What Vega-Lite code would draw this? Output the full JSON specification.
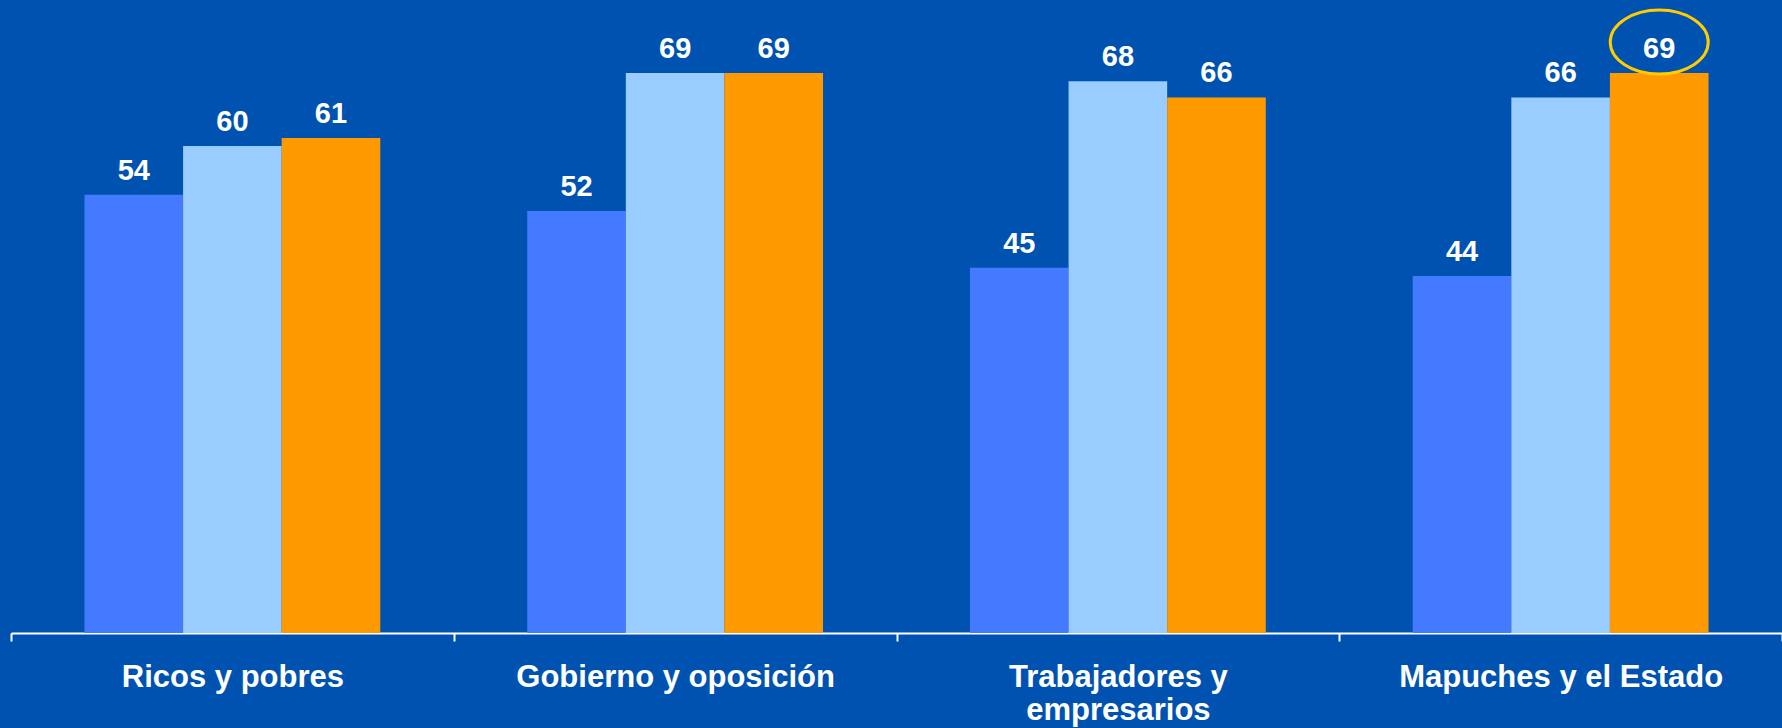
{
  "$schema": "https://vega.github.io/schema/vega-lite/v6.json",
  "width": 1771,
  "height": 633,
  "autosize": {"type": "none"},
  "padding": {"left": 11, "top": 0, "right": 0, "bottom": 95},
  "background": "#0052B0",
  "config": {"view": {"stroke": null}, "font": "Liberation Sans"},
  "data": {
    "values": [
      {"grupo": "Ricos y pobres", "serie": "Serie 1", "valor": 54, "destacado": false},
      {"grupo": "Ricos y pobres", "serie": "Serie 2", "valor": 60, "destacado": false},
      {"grupo": "Ricos y pobres", "serie": "Serie 3", "valor": 61, "destacado": false},
      {"grupo": "Gobierno y oposición", "serie": "Serie 1", "valor": 52, "destacado": false},
      {"grupo": "Gobierno y oposición", "serie": "Serie 2", "valor": 69, "destacado": false},
      {"grupo": "Gobierno y oposición", "serie": "Serie 3", "valor": 69, "destacado": false},
      {"grupo": "Trabajadores y empresarios", "serie": "Serie 1", "valor": 45, "destacado": false},
      {"grupo": "Trabajadores y empresarios", "serie": "Serie 2", "valor": 68, "destacado": false},
      {"grupo": "Trabajadores y empresarios", "serie": "Serie 3", "valor": 66, "destacado": false},
      {"grupo": "Mapuches y el Estado", "serie": "Serie 1", "valor": 44, "destacado": false},
      {"grupo": "Mapuches y el Estado", "serie": "Serie 2", "valor": 66, "destacado": false},
      {"grupo": "Mapuches y el Estado", "serie": "Serie 3", "valor": 69, "destacado": true}
    ]
  },
  "encoding": {
    "x": {
      "field": "grupo",
      "type": "nominal",
      "sort": null,
      "scale": {"paddingInner": 0, "paddingOuter": 0},
      "axis": {
        "title": null,
        "labelAngle": 0,
        "domainColor": "white",
        "domainWidth": 2,
        "tickColor": "white",
        "tickWidth": 2,
        "tickSize": 8,
        "tickBand": "extent",
        "labelColor": "white",
        "labelFont": "Liberation Sans",
        "labelFontSize": 31,
        "labelFontWeight": "bold",
        "labelPadding": 21,
        "labelLineHeight": 33,
        "labelLimit": 0,
        "labelExpr": "datum.value == 'Trabajadores y empresarios' ? ['Trabajadores y', 'empresarios'] : datum.value"
      }
    },
    "xOffset": {
      "field": "serie",
      "type": "nominal",
      "sort": null,
      "scale": {"paddingInner": 0, "paddingOuter": 0.745}
    },
    "y": {
      "field": "valor",
      "type": "quantitative",
      "scale": {"domain": [0, 78], "nice": false},
      "axis": null
    }
  },
  "layer": [
    {
      "mark": {"type": "bar"},
      "encoding": {
        "color": {
          "field": "serie",
          "type": "nominal",
          "scale": {
            "domain": ["Serie 1", "Serie 2", "Serie 3"],
            "range": ["#447AFF", "#99CCFF", "#FF9900"]
          },
          "legend": null
        }
      }
    },
    {
      "mark": {
        "type": "text",
        "baseline": "alphabetic",
        "dy": -15,
        "color": "white",
        "fontSize": 29,
        "fontWeight": "bold",
        "font": "Liberation Sans"
      },
      "encoding": {"text": {"field": "valor", "type": "quantitative"}}
    },
    {
      "transform": [{"filter": "datum.destacado"}],
      "mark": {
        "type": "point",
        "shape": "M -1 0 A 1 0.653 0 1 0 1 0 A 1 0.653 0 1 0 -1 0 Z",
        "size": 9604,
        "filled": false,
        "stroke": "#FFCC00",
        "strokeWidth": 3,
        "opacity": 1,
        "yOffset": -31
      },
      "encoding": {}
    }
  ]
}
